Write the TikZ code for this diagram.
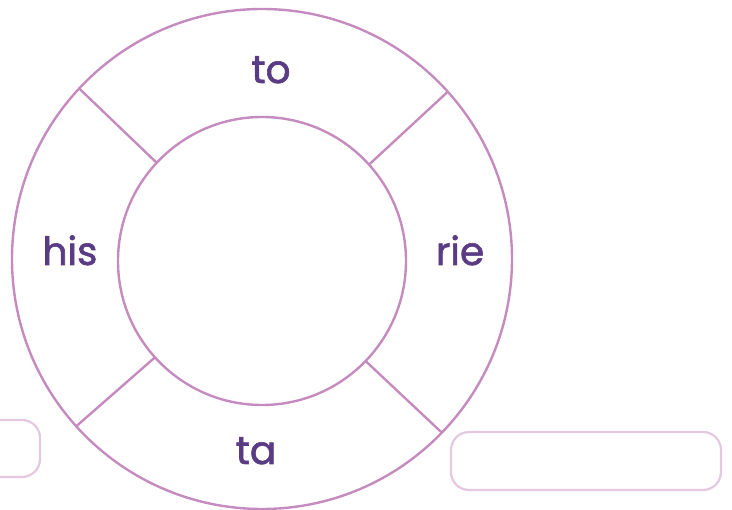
\documentclass[tikz,border=0pt]{standalone}
\usepackage{fontspec}
\setmainfont{Poppins}
\newfontfamily\sylfont{Poppins}[FakeBold=1.6]
\usepackage{xcolor}
\usepackage{tikz}
\usetikzlibrary{positioning}

\definecolor{ringline}{HTML}{C68BBE}
\definecolor{syllable}{HTML}{5A3C84}
\definecolor{boxline}{HTML}{E3C8E0}

\begin{document}
\begin{tikzpicture}[x=1pt,y=-1pt,
    ring/.style={circle,draw=ringline,line width=2.4pt,inner sep=0pt,outer sep=0pt},
    syl/.style={text=syllable,anchor=base,inner sep=0pt,font=\sylfont\fontsize{39}{41}\selectfont},
    answer/.style={draw=boxline,line width=2.2pt,rounded corners=18pt,inner sep=0pt}]
    \useasboundingbox (0,0) rectangle (732,510);
    \clip (0,0) rectangle (732,510);

    % the ring
    \node[ring,minimum size=500pt] (outer) at (262,259) {};
    \node[ring,minimum size=288pt] (inner) at (262,261) {};

    % spokes
    \draw[ringline,line width=2.4pt] (outer.137) -- (inner.137)
          (outer.42) -- (inner.42)
          (outer.222) -- (inner.222)
          (outer.316) -- (inner.316);

    % syllables
    \node[syl] (to)  at (271,83)  {to};
    \node[syl] (his) at (70,265)  {his};
    \node[syl] (rie) at (460,265) {rie};
    \node[syl] (ta)  at (256,464) {ta};

    % answer boxes
    \node[answer,minimum width=100pt,minimum height=57pt] (boxL) at (-10,448.5) {};
    \node[answer,minimum width=270pt,minimum height=58pt] (boxR) at (586,461) {};
\end{tikzpicture}
\end{document}
